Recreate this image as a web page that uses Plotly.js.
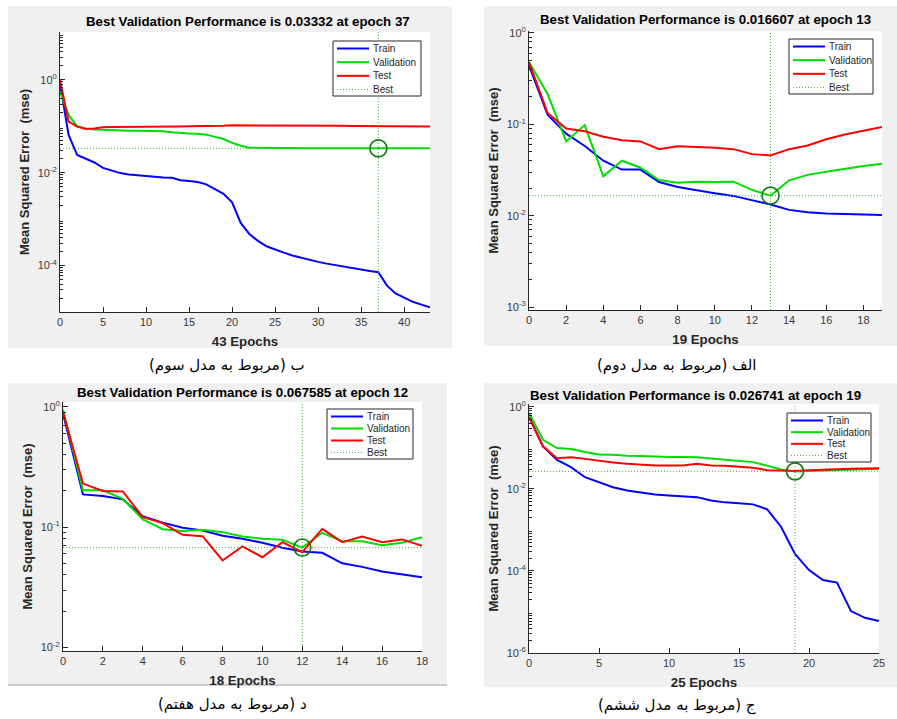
<!DOCTYPE html>
<html><head><meta charset="utf-8">
<script src="https://cdn.plot.ly/plotly-3.0.1.min.js"></script>
<style>html,body{margin:0;padding:0;background:#fff;}#chart{width:897px;height:719px;}</style>
</head><body><div id="chart"></div>
<script>
// ---------- Data ----------
const seriesNames = ['Train', 'Validation', 'Test', 'Best'];
const yAxisLabel = 'Mean Squared Error\u00a0 (mse)';

// Panel ب (model 3) - 43 epochs
const p1Train = [0.85, 0.065, 0.024, 0.0196, 0.0166, 0.0127, 0.011, 0.0098, 0.0091, 0.0087, 0.0084, 0.0081, 0.0079, 0.0078, 0.0069, 0.0066, 0.0063, 0.0056, 0.0045, 0.0035, 0.0023, 0.00083, 0.00048, 0.00034, 0.00026, 0.00022, 0.00019, 0.000165, 0.000147, 0.000133, 0.00012, 0.00011, 0.000102, 0.000094, 0.000087, 0.000081, 0.000076, 0.000072, 0.000037, 0.000025, 0.00002, 0.0000166, 0.0000144, 0.0000126];
const p1Val = [0.56, 0.175, 0.10, 0.09, 0.085, 0.083, 0.081, 0.080, 0.080, 0.080, 0.079, 0.079, 0.078, 0.074, 0.071, 0.070, 0.069, 0.066, 0.059, 0.053, 0.044, 0.038, 0.0345, 0.0342, 0.034, 0.0339, 0.0338, 0.0337, 0.0337, 0.0336, 0.0336, 0.0335, 0.0335, 0.0334, 0.0334, 0.0334, 0.0333, 0.03332, 0.0334, 0.0334, 0.0334, 0.0335, 0.0335, 0.0335];
const p1Test = [1.0, 0.126, 0.098, 0.087, 0.09, 0.095, 0.096, 0.096, 0.097, 0.097, 0.097, 0.098, 0.098, 0.099, 0.099, 0.1, 0.1, 0.101, 0.102, 0.103, 0.105, 0.105, 0.105, 0.105, 0.105, 0.104, 0.104, 0.104, 0.103, 0.103, 0.103, 0.102, 0.102, 0.102, 0.101, 0.101, 0.1, 0.1, 0.1, 0.099, 0.099, 0.099, 0.099, 0.099];
const p1BestEpoch = 37, p1BestPerf = 0.03332;
const p1Caption = 'ب (مربوط به مدل سوم)';
const p1YTicks = [1, 1e-2, 1e-4];
const p1YTickText = ['10<sup>0</sup>', '10<sup>-2</sup>', '10<sup>-4</sup>'];

// Panel الف (model 2) - 19 epochs
const p2Train = [0.44, 0.127, 0.079, 0.058, 0.040, 0.032, 0.032, 0.0234, 0.0206, 0.019, 0.0176, 0.0165, 0.0149, 0.0133, 0.0116, 0.0109, 0.0106, 0.0105, 0.0103, 0.0102];
const p2Val = [0.48, 0.215, 0.065, 0.098, 0.027, 0.040, 0.0335, 0.0246, 0.023, 0.0236, 0.0234, 0.0236, 0.0192, 0.016607, 0.0244, 0.028, 0.0303, 0.0327, 0.035, 0.0371];
const p2Test = [0.48, 0.133, 0.090, 0.084, 0.073, 0.067, 0.065, 0.0535, 0.0576, 0.0567, 0.0553, 0.0535, 0.0472, 0.0456, 0.0535, 0.0586, 0.0687, 0.0773, 0.0853, 0.0935];
const p2BestEpoch = 13, p2BestPerf = 0.016607;
const p2Caption = 'الف (مربوط به مدل دوم)';
const p2YTicks = [1, 0.1, 0.01, 0.001];
const p2YTickText = ['10<sup>0</sup>', '10<sup>-1</sup>', '10<sup>-2</sup>', '10<sup>-3</sup>'];

// Panel د (model 7) - 18 epochs
const p3Train = [0.88, 0.187, 0.181, 0.170, 0.123, 0.109, 0.0987, 0.0938, 0.0847, 0.080, 0.074, 0.0673, 0.0627, 0.0611, 0.050, 0.0467, 0.0427, 0.0406, 0.0383];
const p3Val = [0.95, 0.202, 0.202, 0.172, 0.116, 0.096, 0.0927, 0.095, 0.0908, 0.0836, 0.080, 0.0784, 0.067585, 0.0897, 0.0764, 0.0764, 0.0708, 0.0740, 0.0826];
const p3Test = [0.91, 0.23, 0.20, 0.198, 0.121, 0.108, 0.0863, 0.0841, 0.0528, 0.069, 0.0562, 0.075, 0.0619, 0.0968, 0.075, 0.0836, 0.075, 0.079, 0.070];
const p3BestEpoch = 12, p3BestPerf = 0.067585;
const p3Caption = 'د (مربوط به مدل هفتم)';
const p3YTicks = [1, 0.1, 0.01];
const p3YTickText = ['10<sup>0</sup>', '10<sup>-1</sup>', '10<sup>-2</sup>'];

// Panel ج (model 6) - 25 epochs
const p4Train = [0.57, 0.109, 0.051, 0.034, 0.0193, 0.0146, 0.011, 0.0091, 0.0080, 0.0073, 0.0069, 0.0066, 0.0063, 0.0052, 0.0047, 0.0045, 0.0042, 0.0032, 0.0012, 0.00026, 0.000105, 0.00006, 0.000052, 0.0000105, 0.0000072, 0.000006];
const p4Val = [0.71, 0.158, 0.099, 0.094, 0.079, 0.069, 0.068, 0.064, 0.063, 0.061, 0.060, 0.060, 0.059, 0.055, 0.052, 0.049, 0.045, 0.037, 0.0297, 0.026741, 0.0275, 0.028, 0.029, 0.030, 0.031, 0.031];
const p4Test = [0.57, 0.109, 0.056, 0.0595, 0.054, 0.048, 0.044, 0.041, 0.039, 0.037, 0.037, 0.037, 0.041, 0.037, 0.0365, 0.0345, 0.0327, 0.0287, 0.0281, 0.0275, 0.0287, 0.029, 0.030, 0.031, 0.0315, 0.032];
const p4BestEpoch = 19, p4BestPerf = 0.026741;
const p4Caption = 'ج (مربوط به مدل ششم)';
const p4YTicks = [1, 1e-2, 1e-4, 1e-6];
const p4YTickText = ['10<sup>0</sup>', '10<sup>-2</sup>', '10<sup>-4</sup>', '10<sup>-6</sup>'];

// ---------- Layout helpers (pixel geometry -> paper fractions) ----------
const W = 897, H = 719;
const fx = px => px / W;
const fy = py => 1 - py / H;
const FONT = 'Liberation Sans, Arial, sans-serif';
const AXC = '#262626';
const lineStyles = [
  {color: '#0000ff', width: 2},
  {color: '#00dd00', width: 2},
  {color: '#ff0000', width: 2},
  {color: '#44bb44', width: 1, dash: '1px,2px'}
];

const panels = [
  {train: p1Train, val: p1Val, test: p1Test, be: p1BestEpoch, bp: p1BestPerf, cap: p1Caption,
   yt: p1YTicks, ytt: p1YTickText, yr: [-5, 1.03], dtick: 5,
   bg: [8, 6, 452, 348], plot: [60, 32, 430, 312], titleXY: [248, 21], leg: [333, 41, 421, 96], capXY: [227, 365]},
  {train: p2Train, val: p2Val, test: p2Test, be: p2BestEpoch, bp: p2BestPerf, cap: p2Caption,
   yt: p2YTicks, ytt: p2YTickText, yr: [-3.03, 0.02], dtick: 2,
   bg: [484, 6, 897, 346], plot: [529, 31, 882, 310], titleXY: [705, 19], leg: [789, 39, 873, 94], capXY: [676, 365]},
  {train: p3Train, val: p3Val, test: p3Test, be: p3BestEpoch, bp: p3BestPerf, cap: p3Caption,
   yt: p3YTicks, ytt: p3YTickText, yr: [-2.03, 0.04], dtick: 2,
   bg: [8, 383, 447, 685], plot: [63, 402, 422, 651], titleXY: [242, 392], leg: [327, 409, 413, 459], capXY: [232, 704]},
  {train: p4Train, val: p4Val, test: p4Test, be: p4BestEpoch, bp: p4BestPerf, cap: p4Caption,
   yt: p4YTicks, ytt: p4YTickText, yr: [-6.0, 0.07], dtick: 5,
   bg: [484, 383, 897, 687], plot: [529, 404, 879, 653], titleXY: [695, 395], leg: [787, 413, 871, 462], capXY: [677, 705]}
];

const data = [];
const layout = {
  width: W, height: H, margin: {l: 0, r: 0, t: 0, b: 0},
  paper_bgcolor: '#ffffff', plot_bgcolor: '#ffffff',
  font: {family: FONT, color: AXC},
  showlegend: false, shapes: [], annotations: []
};

panels.forEach((p, i) => {
  const k = i + 1;
  const xa = k === 1 ? 'x' : 'x' + k, ya = k === 1 ? 'y' : 'y' + k;
  const xk = k === 1 ? 'xaxis' : 'xaxis' + k, yk = k === 1 ? 'yaxis' : 'yaxis' + k;
  const n = p.train.length - 1;
  const ep = p.train.map((_, j) => j);

  const common = {xaxis: xa, yaxis: ya, mode: 'lines', hoverinfo: 'skip', showlegend: false};
  data.push(Object.assign({}, common, {x: ep, y: p.train, name: seriesNames[0], line: lineStyles[0]}));
  data.push(Object.assign({}, common, {x: ep, y: p.val, name: seriesNames[1], line: lineStyles[1]}));
  data.push(Object.assign({}, common, {x: ep, y: p.test, name: seriesNames[2], line: lineStyles[2]}));
  data.push(Object.assign({}, common, {x: [0, n], y: [p.bp, p.bp], name: seriesNames[3], line: lineStyles[3]}));
  data.push(Object.assign({}, common, {x: [p.be, p.be], y: [Math.pow(10, p.yr[0]), Math.pow(10, p.yr[1])], name: seriesNames[3], line: lineStyles[3]}));
  data.push(Object.assign({}, common, {x: [p.be], y: [p.bp], mode: 'markers', name: seriesNames[3],
    marker: {symbol: 'circle-open', size: 17, color: '#107a10', line: {width: 1.6, color: '#107a10'}}}));

  // minor tick positions for the log axis
  const minorVals = [];
  for (let d = Math.floor(p.yr[0]); d < Math.ceil(p.yr[1]) + 1; d++) {
    for (let m = 2; m <= 9; m++) minorVals.push(m * Math.pow(10, d));
  }

  layout[xk] = {
    domain: [fx(p.plot[0]), fx(p.plot[2])], anchor: ya, range: [0, n], dtick: p.dtick, tick0: 0,
    ticks: 'inside', ticklen: 5, tickcolor: AXC, showline: true, linecolor: AXC, linewidth: 1,
    showgrid: false, zeroline: false, mirror: false,
    tickfont: {family: FONT, size: 11, color: '#3a3a3a'},
    title: {text: n + ' Epochs', font: {family: FONT, size: 13.3, weight: 'bold', color: '#262626'}, standoff: 9},
    automargin: false, fixedrange: true
  };
  layout[yk] = {
    domain: [fy(p.plot[3]), fy(p.plot[1])], anchor: xa, type: 'log', range: p.yr,
    tickmode: 'array', tickvals: p.yt, ticktext: p.ytt,
    ticks: 'inside', ticklen: 5, tickcolor: AXC, showline: true, linecolor: AXC, linewidth: 1,
    showgrid: false, zeroline: false, mirror: false,
    minor: {tickmode: 'array', tickvals: minorVals, ticks: 'inside', ticklen: 3, tickcolor: AXC, showgrid: false},
    tickfont: {family: FONT, size: 11, color: '#3a3a3a'},
    title: {text: yAxisLabel, font: {family: FONT, size: 13, weight: 'bold', color: '#262626'}, standoff: 5},
    automargin: false, fixedrange: true
  };

  // grey figure background and white axes area
  layout.shapes.push({type: 'rect', xref: 'paper', yref: 'paper', layer: 'below',
    x0: fx(p.bg[0]), x1: fx(p.bg[2]), y0: fy(p.bg[3]), y1: fy(p.bg[1]),
    fillcolor: '#f0f0f0', line: {width: 0}});
  layout.shapes.push({type: 'rect', xref: 'paper', yref: 'paper', layer: 'below',
    x0: fx(p.plot[0]), x1: fx(p.plot[2]), y0: fy(p.plot[3]), y1: fy(p.plot[1]),
    fillcolor: '#ffffff', line: {width: 0}});

  // legend box (MATLAB-style compact legend)
  const [lx0, ly0, lx1, ly1] = p.leg;
  layout.shapes.push({type: 'rect', xref: 'paper', yref: 'paper', layer: 'above',
    x0: fx(lx0), x1: fx(lx1), y0: fy(ly1), y1: fy(ly0),
    fillcolor: '#ffffff', line: {color: '#262626', width: 1}});
  const rowH = (ly1 - ly0 - 14) / 3;
  seriesNames.forEach((nm, r) => {
    const ry = ly0 + 7.5 + r * rowH;
    const st = lineStyles[r];
    layout.shapes.push({type: 'line', xref: 'paper', yref: 'paper', layer: 'above',
      x0: fx(lx0 + 4), x1: fx(lx0 + 36), y0: fy(ry), y1: fy(ry),
      line: {color: st.color, width: st.width, dash: st.dash || 'solid'}});
    layout.annotations.push({xref: 'paper', yref: 'paper', x: fx(lx0 + 38), y: fy(ry),
      xanchor: 'left', yanchor: 'middle', showarrow: false, text: nm,
      font: {family: FONT, size: 10, color: '#262626'}});
  });

  layout.annotations.push({xref: 'paper', yref: 'paper', x: fx(p.titleXY[0]), y: fy(p.titleXY[1]),
    xanchor: 'center', yanchor: 'middle', showarrow: false,
    text: 'Best Validation Performance is ' + p.bp + ' at epoch ' + p.be,
    font: {family: FONT, size: 13.3, weight: 'bold', color: '#000000'}});
  layout.annotations.push({xref: 'paper', yref: 'paper', x: fx(p.capXY[0]), y: fy(p.capXY[1]),
    xanchor: 'center', yanchor: 'middle', showarrow: false, text: p.cap,
    font: {family: 'DejaVu Sans, Noto Sans, sans-serif', size: 15, color: '#000000'}});
});

// thin darker edge at bottom of lower-left figure
layout.shapes.push({type: 'line', xref: 'paper', yref: 'paper', layer: 'below',
  x0: fx(8), x1: fx(447), y0: fy(685), y1: fy(685), line: {color: '#a0a0a0', width: 1}});

Plotly.newPlot('chart', data, layout, {staticPlot: true, displayModeBar: false});
</script></body></html>
